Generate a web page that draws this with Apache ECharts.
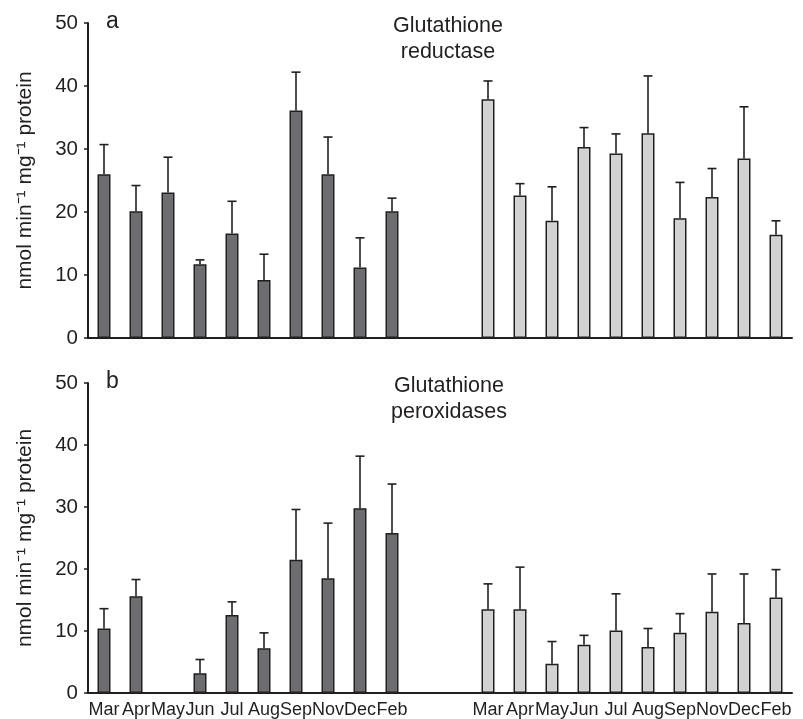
<!DOCTYPE html>
<html>
<head>
<meta charset="utf-8">
<script src="https://cdn.jsdelivr.net/npm/echarts@6/dist/echarts.min.js"></script>
<style>html,body{margin:0;padding:0;background:#fff}#c{width:803px;height:719px}</style>
</head>
<body>
<div id="c"></div>
<script>
const months = ['Mar','Apr','May','Jun','Jul','Aug','Sep','Nov','Dec','Feb'];
const gapSlots = ['', ''];
const yTicks = [0, 10, 20, 30, 40, 50];

// Panel a: Glutathione reductase
const aDark    = [26.0, 20.1, 23.1, 11.7, 16.6, 9.2, 36.1, 26.0, 11.2, 20.1];
const aDarkSD  = [4.7, 4.1, 5.6, 0.7, 5.1, 4.1, 6.1, 5.9, 4.7, 2.1];
const aLight   = [37.9, 22.6, 18.6, 30.3, 29.3, 32.5, 19.0, 22.4, 28.5, 16.4];
const aLightSD = [2.9, 1.9, 5.4, 3.1, 3.1, 9.1, 5.7, 4.5, 8.2, 2.2];

// Panel b: Glutathione peroxidases
const bDark    = [10.4, 15.6, null, 3.2, 12.6, 7.2, 21.5, 18.5, 29.8, 25.8];
const bDarkSD  = [3.2, 2.7, null, 2.2, 2.1, 2.5, 8.1, 8.9, 8.4, 7.9];
const bLight   = [13.5, 13.5, 4.7, 7.8, 10.1, 7.4, 9.7, 13.1, 11.3, 15.4];
const bLightSD = [4.1, 6.8, 3.6, 1.5, 5.9, 3.0, 3.1, 6.1, 7.9, 4.5];

const categories = months.concat(gapSlots, months);
const nGap = gapSlots.length;
const lightOffset = months.length + nGap;

const INK = '#231f20';
const DARK = '#6e6d72';
const LIGHT = '#d1d2d4';
const FONT = 'Liberation Sans, Arial, Helvetica, sans-serif';

function padDark(arr) { return arr.concat(new Array(nGap + months.length).fill(null)); }
function padLight(arr) { return new Array(lightOffset).fill(null).concat(arr); }
function errData(vals, sds, offset) {
  const out = [];
  vals.forEach((v, i) => { if (v != null && sds[i] != null) out.push([i + offset, v, sds[i]]); });
  return out;
}
function renderErr(params, api) {
  const x = api.value(0), v = api.value(1), sd = api.value(2);
  const p0 = api.coord([x, v]);
  const p1 = api.coord([x, v + sd]);
  const cap = 4.5;
  const style = { stroke: INK, lineWidth: 1.6, fill: null };
  return {
    type: 'group',
    children: [
      { type: 'line', shape: { x1: p0[0], y1: p0[1], x2: p1[0], y2: p1[1] }, style: style },
      { type: 'line', shape: { x1: p1[0] - cap, y1: p1[1], x2: p1[0] + cap, y2: p1[1] }, style: style }
    ]
  };
}

const grids = [
  { left: 88, right: 11, top: 23, height: 315 },
  { left: 88, right: 11, top: 383, height: 312 }
];

function xAxis(gi, showLabels) {
  return {
    type: 'category', gridIndex: gi, data: categories,
    axisLine: { lineStyle: { color: INK, width: 2 } },
    axisTick: { show: false },
    axisLabel: { show: showLabels, interval: 0, color: INK, fontSize: 18, fontFamily: FONT, margin: 8, hideOverlap: false },
    splitLine: { show: false }
  };
}
function yAxis(gi) {
  return {
    type: 'value', gridIndex: gi, min: yTicks[0], max: yTicks[yTicks.length - 1], interval: 10,
    name: 'nmol min⁻¹ mg⁻¹ protein', nameLocation: 'middle', nameGap: 52, nameRotate: 90,
    nameTextStyle: { color: INK, fontSize: 21, fontFamily: FONT },
    axisLine: { show: true, lineStyle: { color: INK, width: 2 } },
    axisTick: { show: true, length: 4, lineStyle: { color: INK, width: 1.5 } },
    axisLabel: { color: INK, fontSize: 20.5, fontFamily: FONT, margin: 10 },
    splitLine: { show: false }
  };
}
function barSeries(gi, data, color) {
  return {
    type: 'bar', xAxisIndex: gi, yAxisIndex: gi, data: data, barWidth: 13, barGap: '-100%',
    itemStyle: { color: color, borderColor: INK, borderWidth: 1.5 },
    emphasis: { disabled: true }, animation: false
  };
}
function errSeries(gi, data) {
  return { type: 'custom', xAxisIndex: gi, yAxisIndex: gi, data: data, renderItem: renderErr, animation: false, z: 3 };
}

const chart = echarts.init(document.getElementById('c'), null, { renderer: 'canvas' });
chart.setOption({
  animation: false,
  backgroundColor: '#fff',
  textStyle: { fontFamily: FONT },
  title: [
    { text: 'a', left: 101, top: 5, textStyle: { fontSize: 23, fontWeight: 'normal', color: INK, fontFamily: FONT } },
    { text: 'Glutathione\nreductase', left: 443, top: 8, textAlign: 'center',
      textStyle: { fontSize: 21.5, lineHeight: 26, fontWeight: 'normal', color: INK, fontFamily: FONT } },
    { text: 'b', left: 101, top: 365, textStyle: { fontSize: 23, fontWeight: 'normal', color: INK, fontFamily: FONT } },
    { text: 'Glutathione\nperoxidases', left: 444, top: 368, textAlign: 'center',
      textStyle: { fontSize: 21.5, lineHeight: 26, fontWeight: 'normal', color: INK, fontFamily: FONT } }
  ],
  grid: grids,
  xAxis: [xAxis(0, false), xAxis(1, true)],
  yAxis: [yAxis(0), yAxis(1)],
  series: [
    barSeries(0, padDark(aDark), DARK),
    barSeries(0, padLight(aLight), LIGHT),
    errSeries(0, errData(aDark, aDarkSD, 0)),
    errSeries(0, errData(aLight, aLightSD, lightOffset)),
    barSeries(1, padDark(bDark), DARK),
    barSeries(1, padLight(bLight), LIGHT),
    errSeries(1, errData(bDark, bDarkSD, 0)),
    errSeries(1, errData(bLight, bLightSD, lightOffset))
  ]
});
</script>
</body>
</html>
